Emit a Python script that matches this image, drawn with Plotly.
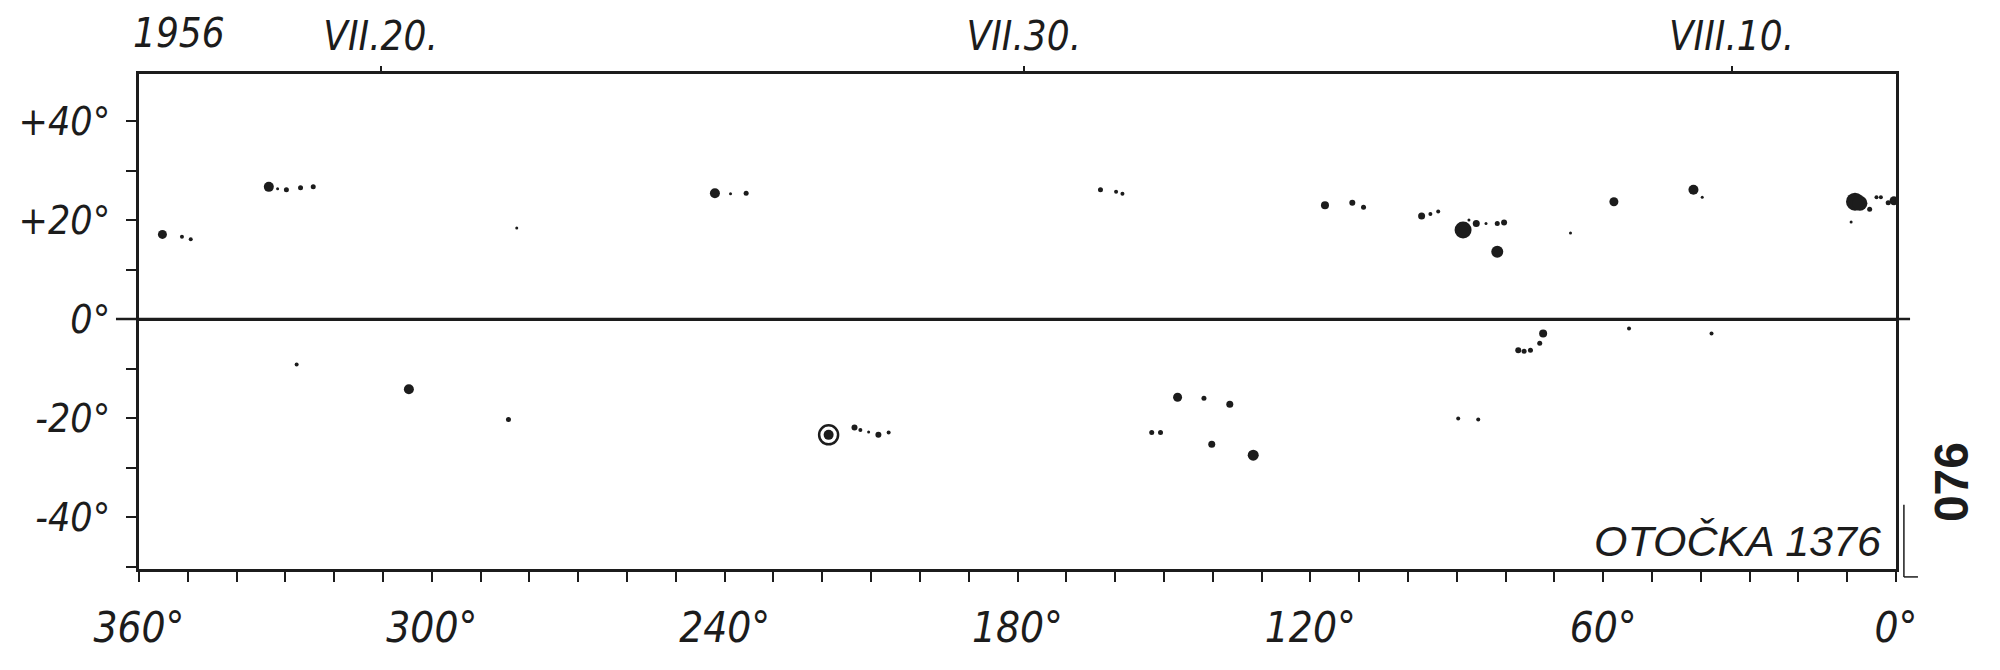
import plotly.graph_objects as go

# ---- data (heliographic longitude, latitude, spot size in px) ----
north_lon = [355.2, 351.2, 349.4,
             333.4, 331.6, 329.8, 326.9, 324.3,
             282.6,
             242.0, 238.8, 235.6,
             163.0, 159.8, 158.5,
             117.0, 111.4, 109.1,
             97.2, 95.4, 93.8,
             88.7, 87.5, 86.0, 84.0, 81.7, 80.3,
             81.7, 66.7,
             57.8, 41.5, 39.7,
             8.4, 7.4, 5.4, 4.0, 3.1, 1.6, 9.2, 0.4]
north_lat = [17.1, 16.6, 16.1,
             26.7, 26.3, 26.1, 26.5, 26.7,
             18.4,
             25.4, 25.3, 25.4,
             26.1, 25.7, 25.3,
             23.0, 23.5, 22.6,
             20.8, 21.2, 21.7,
             18.0, 20.0, 19.3, 19.3, 19.3, 19.5,
             13.6, 17.4,
             23.7, 26.1, 24.6,
             23.7, 23.4, 22.2, 24.6, 24.6, 23.5, 19.6, 23.9]
north_size = [9, 4, 4,
              10, 3, 5, 5, 5,
              3,
              10, 3, 5,
              5, 4, 4,
              8, 6, 5,
              7, 4, 4,
              17, 3, 7, 3, 5, 6,
              12, 3,
              9, 10, 3,
              18, 15, 5, 4, 4, 5, 3, 9]

south_lon = [327.7, 304.7, 284.3,
             213.4, 212.2, 210.5, 208.5, 206.4,
             152.5, 150.7,
             147.2, 141.8, 136.5, 140.2, 131.7,
             89.7, 85.6,
             72.3, 73.0, 74.9, 76.2, 77.4,
             54.7, 37.8]
south_lat = [-9.2, -14.2, -20.3,
             -21.9, -22.4, -22.8, -23.4, -22.9,
             -22.9, -22.9,
             -15.8, -16.0, -17.2, -25.3, -27.5,
             -20.1, -20.3,
             -2.9, -4.9, -6.3, -6.5, -6.3,
             -1.9, -2.9]
south_size = [4, 10, 5,
              6, 4, 3, 6, 4,
              5, 5,
              9, 5, 7, 7, 11,
              4, 4,
              8, 5, 5, 5, 6,
              4, 4]

# spot with penumbra ring
ring_lon = [218.7]
ring_lat = [-23.4]

# date marks on top axis
date_lon = [310.5, 178.7, 33.7]
date_text = ["VII.20.", "VII.30.", "VIII.10."]

# axis ticks
lon_ticks = list(range(0, 361, 10))
lon_text = [f"{v}°" if v % 60 == 0 else "" for v in lon_ticks]
lat_ticks = list(range(-50, 51, 10))
lat_text = {40: "+40°", 20: "+20°", 0: "0°", -20: "-20°", -40: "-40°"}
lat_ticktext = [lat_text.get(v, "") for v in lat_ticks]

INK = "#1c1c1c"
NARROW = "Liberation Sans Narrow, Arial Narrow, DejaVu Sans Condensed, sans-serif"
FONT = "Liberation Sans, Arial, sans-serif"

fig = go.Figure()
fig.add_trace(go.Scatter(x=north_lon, y=north_lat, mode="markers",
                         marker=dict(size=north_size, color=INK, opacity=1, line=dict(width=0)),
                         showlegend=False, hoverinfo="skip"))
fig.add_trace(go.Scatter(x=south_lon, y=south_lat, mode="markers",
                         marker=dict(size=south_size, color=INK, opacity=1, line=dict(width=0)),
                         showlegend=False, hoverinfo="skip"))
fig.add_trace(go.Scatter(x=ring_lon, y=ring_lat, mode="markers",
                         marker=dict(size=19, symbol="circle-open", color=INK, opacity=1,
                                     line=dict(width=2.5, color=INK)),
                         showlegend=False, hoverinfo="skip"))
fig.add_trace(go.Scatter(x=ring_lon, y=ring_lat, mode="markers",
                         marker=dict(size=10, color=INK, opacity=1, line=dict(width=0)),
                         showlegend=False, hoverinfo="skip"))
# invisible trace to carry the top (date) axis
fig.add_trace(go.Scatter(x=date_lon, y=[None] * len(date_lon), xaxis="x2",
                         mode="markers", showlegend=False, hoverinfo="skip"))

fig.update_layout(
    width=1984, height=654,
    margin=dict(l=131, r=96, t=66, b=93, autoexpand=False),
    paper_bgcolor="white", plot_bgcolor="white",
    xaxis=dict(range=[360, 0], tickmode="array", tickvals=lon_ticks, ticktext=lon_text,
               ticks="outside", ticklen=10, tickwidth=2, tickcolor=INK,
               showline=True, linewidth=3, linecolor=INK, mirror=True,
               showgrid=False, zeroline=False, ticklabelstandoff=10,
               tickfont=dict(family=NARROW, size=42, color=INK, style="italic")),
    xaxis2=dict(range=[360, 0], overlaying="x", side="top", tickmode="array",
                tickvals=date_lon, ticktext=date_text,
                ticks="outside", ticklen=7, tickwidth=2, tickcolor=INK,
                showline=False, showgrid=False, zeroline=False,
                tickfont=dict(family=NARROW, size=40, color=INK, style="italic")),
    yaxis=dict(range=[-50.5, 49.5], tickmode="array", tickvals=lat_ticks, ticktext=lat_ticktext,
               ticks="outside", ticklen=10, tickwidth=2, tickcolor=INK,
               showline=True, linewidth=3, linecolor=INK, mirror=True,
               showgrid=False, zeroline=True, zerolinewidth=2.5, zerolinecolor=INK,
               ticklabelstandoff=8,
               tickfont=dict(family=NARROW, size=39, color=INK, style="italic")),
)

# equator line extensions beyond the frame
fig.add_shape(type="line", xref="paper", yref="y", x0=-0.0131, x1=1.008, y0=0, y1=0,
              line=dict(color=INK, width=2.5))
# small bracket at the right edge
fig.add_shape(type="line", xref="paper", yref="paper", x0=1.0045, x1=1.0045, y0=0.13, y1=-0.016,
              line=dict(color=INK, width=1.5))
fig.add_shape(type="line", xref="paper", yref="paper", x0=1.0045, x1=1.0125, y0=-0.016, y1=-0.016,
              line=dict(color=INK, width=1.5))

fig.add_annotation(text="1956", xref="paper", yref="paper", x=0.0228, y=1.0,
                   xanchor="center", yanchor="bottom", yshift=16, showarrow=False,
                   font=dict(family=NARROW, size=40, color=INK, style="italic"))
fig.add_annotation(text="OTOČKA 1376", xref="paper", yref="paper", x=0.9926, y=0.056,
                   xanchor="right", yanchor="middle", showarrow=False,
                   font=dict(family=FONT, size=43, color=INK, style="italic"))
fig.add_annotation(text="<b>076</b>", xref="paper", yref="paper", x=1.032, y=0.176,
                   xanchor="center", yanchor="middle",
                   textangle=-90, showarrow=False,
                   font=dict(family=FONT, size=48, color=INK))

fig.write_html("out.html")
